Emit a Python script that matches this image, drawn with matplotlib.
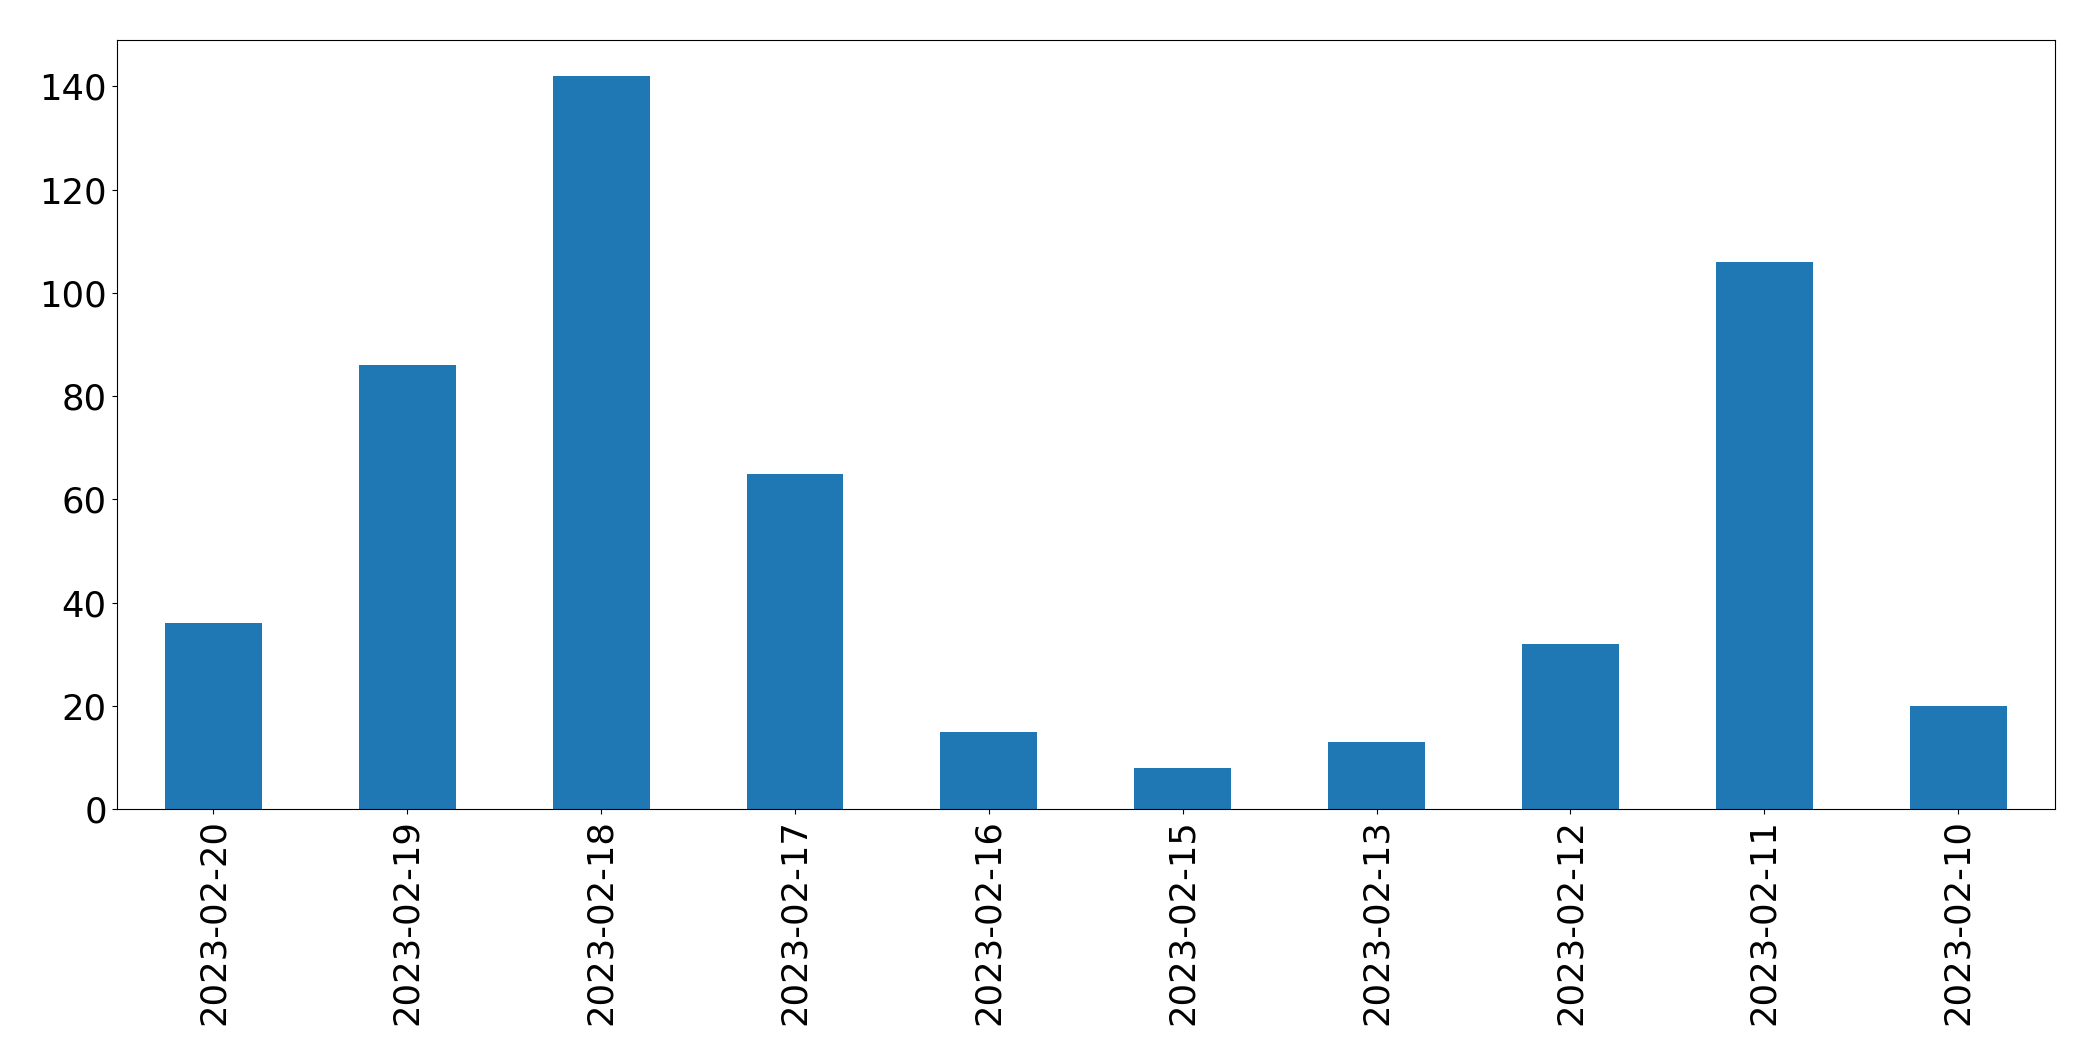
import matplotlib
matplotlib.use("Agg")
import matplotlib.pyplot as plt

dates = ["2023-02-20", "2023-02-19", "2023-02-18", "2023-02-17", "2023-02-16",
         "2023-02-15", "2023-02-13", "2023-02-12", "2023-02-11", "2023-02-10"]
counts = [36, 86, 142, 65, 15, 8, 13, 32, 106, 20]

fig = plt.figure(figsize=(20.93, 10.61), dpi=100)
ax = fig.add_axes([116.5 / 2093, 1 - 809 / 1061, (2055 - 116.5) / 2093, (809 - 39.5) / 1061])

x = range(len(dates))
ax.bar(x, counts, width=0.5, color="#1f77b4")
ax.set_xlim(-0.5, len(dates) - 0.5)
ax.set_xticks(list(x))
ax.set_xticklabels(dates, rotation=90)
ax.tick_params(labelsize=25.5)

fig.savefig("out.png", dpi=100)
